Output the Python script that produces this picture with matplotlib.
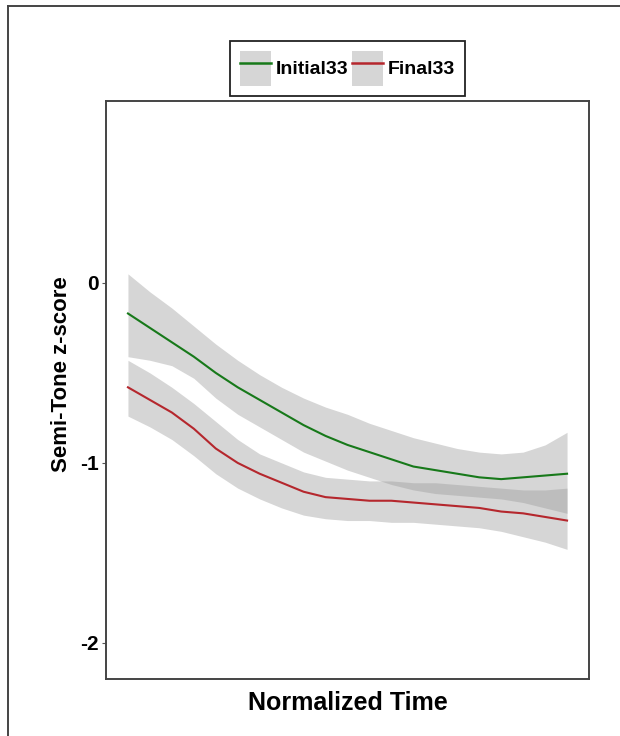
#!/usr/bin/env python3
# -*- coding: utf-8 -*-
# smoothed semi-tone z-score curves over normalized time, with confidence bands
import numpy as np
from matplotlib import pyplot as plt
from matplotlib.patches import Patch
from matplotlib.lines import Line2D

# normalized time points
time = [0.00, 0.05, 0.10, 0.15, 0.20, 0.25, 0.30, 0.35, 0.40, 0.45, 0.50,
        0.55, 0.60, 0.65, 0.70, 0.75, 0.80, 0.85, 0.90, 0.95, 1.00]

# Initial33 fit and band
initial_fit = [-0.17, -0.25, -0.33, -0.41, -0.50, -0.58, -0.65, -0.72, -0.79, -0.85, -0.90,
               -0.94, -0.98, -1.02, -1.04, -1.06, -1.08, -1.09, -1.08, -1.07, -1.06]
initial_hi = [0.05, -0.05, -0.14, -0.24, -0.34, -0.43, -0.51, -0.58, -0.64, -0.69, -0.73,
              -0.78, -0.82, -0.86, -0.89, -0.92, -0.94, -0.95, -0.94, -0.90, -0.83]
initial_lo = [-0.41, -0.43, -0.46, -0.53, -0.64, -0.73, -0.80, -0.87, -0.94, -0.99, -1.04,
              -1.08, -1.12, -1.15, -1.17, -1.18, -1.19, -1.20, -1.22, -1.25, -1.28]

# Final33 fit and band
final_fit = [-0.58, -0.65, -0.72, -0.81, -0.92, -1.00, -1.06, -1.11, -1.16, -1.19, -1.20,
             -1.21, -1.21, -1.22, -1.23, -1.24, -1.25, -1.27, -1.28, -1.30, -1.32]
final_hi = [-0.43, -0.50, -0.58, -0.67, -0.77, -0.87, -0.95, -1.00, -1.05, -1.08, -1.09,
            -1.10, -1.10, -1.11, -1.11, -1.12, -1.13, -1.14, -1.15, -1.15, -1.14]
final_lo = [-0.74, -0.80, -0.87, -0.96, -1.06, -1.14, -1.20, -1.25, -1.29, -1.31, -1.32,
            -1.32, -1.33, -1.33, -1.34, -1.35, -1.36, -1.38, -1.41, -1.44, -1.48]

series_names = ['Initial33', 'Final33']
series_colors = ['#17791a', '#b5272d']
y_ticks = [0, -1, -2]

plt.rcParams['font.family'] = ['Liberation Sans', 'DejaVu Sans']
plt.rcParams['font.weight'] = 'bold'

fig = plt.figure(figsize=(6.2, 7.36), dpi=100)
ax = fig.add_axes([106 / 620, 1 - 679 / 736, 483 / 620, 578 / 736])

band_color = '#999999'
ax.fill_between(time, initial_lo, initial_hi, color=band_color, alpha=0.4, linewidth=0)
ax.fill_between(time, final_lo, final_hi, color=band_color, alpha=0.4, linewidth=0)
ax.plot(time, initial_fit, color=series_colors[0], linewidth=1.5)
ax.plot(time, final_fit, color=series_colors[1], linewidth=1.5)

ax.set_xlim(-0.05, 1.05)
ax.set_ylim(-2.2, 1.01)
ax.set_xticks([])
ax.set_yticks(y_ticks)
ax.set_yticklabels([str(t) for t in y_ticks], fontsize=15, fontweight='bold')
ax.tick_params(axis='y', length=3, width=0.8, color='#555555', pad=2)
for sp in ax.spines.values():
    sp.set_color('#444444')
    sp.set_linewidth(1.4)

ax.set_xlabel('Normalized Time', fontsize=18, fontweight='bold', labelpad=9)
ax.set_ylabel('Semi-Tone z-score', fontsize=16, fontweight='bold')
ax.yaxis.set_label_coords(-0.07, 0.528)

# legend keys: grey box with coloured line on top
handles = []
for col in series_colors:
    handles.append((Patch(facecolor=band_color, alpha=0.4, linewidth=0),
                    Line2D([], [], color=col, linewidth=1.8)))
leg = fig.legend(handles, series_names, loc='center', ncol=2,
                 bbox_to_anchor=(347.5 / 620, 1 - 68.5 / 736),
                 prop={'family': 'Liberation Sans', 'weight': 'bold', 'size': 14},
                 handlelength=1.6, handleheight=2.39, handletextpad=0.25,
                 columnspacing=0.2, borderpad=0.5, borderaxespad=0,
                 fancybox=False, framealpha=1)
leg.get_frame().set_edgecolor('#222222')
leg.get_frame().set_linewidth(1.3)

# outer frame, only top and left edges show
fig.add_artist(Line2D([7.5 / 620, 7.5 / 620], [0, 1 - 5.5 / 736], color='#444444', linewidth=1.4))
fig.add_artist(Line2D([7.5 / 620, 1], [1 - 5.5 / 736, 1 - 5.5 / 736], color='#444444', linewidth=1.4))

fig.savefig('out.png', dpi=100)
